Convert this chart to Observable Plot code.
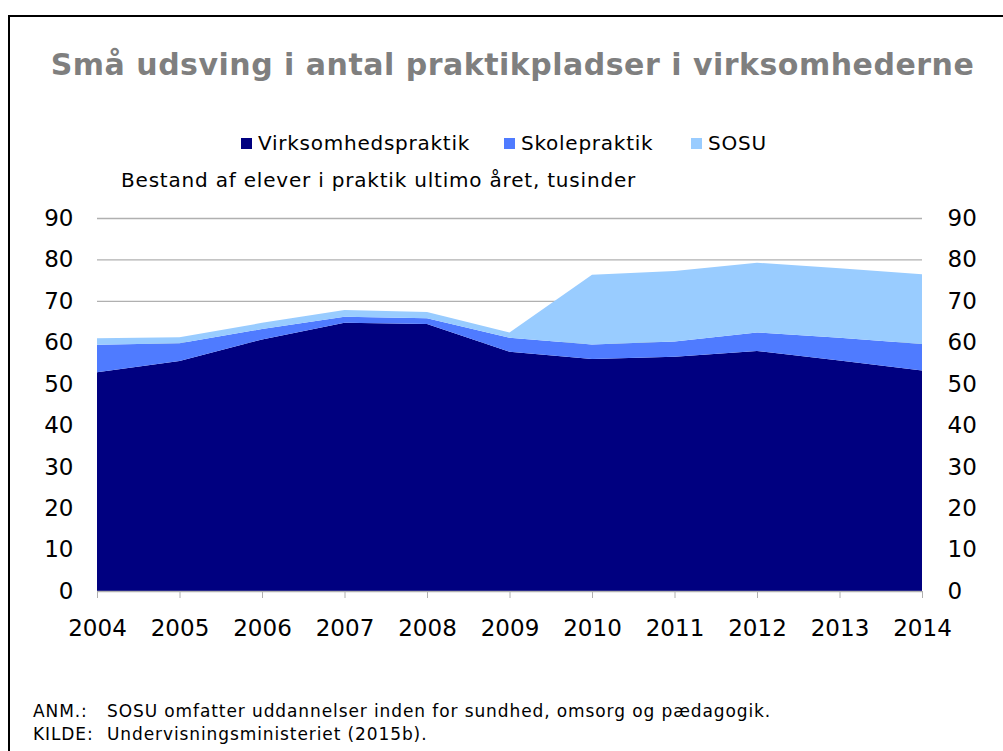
<!DOCTYPE html>
<html>
<head>
<meta charset="utf-8">
<script src="https://cdn.jsdelivr.net/npm/d3@7"></script>
<script src="https://cdn.jsdelivr.net/npm/@observablehq/plot@0.6"></script>
<style>
  html, body { margin: 0; padding: 0; background: #fff; }
  #wrap { position: relative; width: 1003px; height: 751px; overflow: hidden; font-family: "DejaVu Sans", Verdana, sans-serif; }
  #frame { position: absolute; left: 8px; top: 15px; width: 1100px; height: 800px; border-left: 2px solid #000; border-top: 2px solid #000; }
  #title { position: absolute; left: 0; width: 1025px; top: 47px; text-align: center; font-weight: bold; font-size: 30px; letter-spacing: 0.5px; color: #7f7f7f; white-space: nowrap; }
  #legend { position: absolute; left: 0; top: 131px; width: 1003px; height: 30px; font-size: 20px; letter-spacing: 0.75px; color: #000; white-space: nowrap; }
  #legend span.item { position: absolute; top: 0; }
  #legend span.sw { display: inline-block; width: 11px; height: 11px; margin-right: 6px; vertical-align: 1px; }
  #subtitle { position: absolute; left: 121px; top: 168px; font-size: 20px; letter-spacing: 0.8px; color: #000; white-space: nowrap; }
  #chart { position: absolute; left: 0; top: 200px; }
  #notes { position: absolute; left: 33px; top: 700px; font-size: 17px; letter-spacing: 0.9px; color: #000; line-height: 23px; white-space: nowrap; }
  #notes .lab { display: inline-block; width: 74px; }
</style>
</head>
<body>
<div id="wrap">
  <div id="frame"></div>
  <div id="title"></div>
  <div id="legend"></div>
  <div id="subtitle"></div>
  <div id="chart"></div>
  <div id="notes"></div>
</div>
<script>
const years = [2004, 2005, 2006, 2007, 2008, 2009, 2010, 2011, 2012, 2013, 2014];
const seriesNames = ["Virksomhedspraktik", "Skolepraktik", "SOSU"];
const seriesColors = ["#000080", "#4f7bff", "#99ccff"];
const virksomhedspraktik = [52.8, 55.5, 60.7, 64.7, 64.4, 57.7, 56.0, 56.5, 57.9, 55.6, 53.2];
const skolepraktik = [6.6, 4.3, 2.5, 1.5, 1.4, 3.4, 3.5, 3.7, 4.5, 5.5, 6.4];
const sosu = [1.6, 1.4, 1.5, 1.6, 1.5, 1.3, 16.8, 17.0, 16.8, 16.8, 16.8];
const yTicks = [0, 10, 20, 30, 40, 50, 60, 70, 80, 90];
const titleText = "Små udsving i antal praktikpladser i virksomhederne";
const subtitleText = "Bestand af elever i praktik ultimo året, tusinder";
const noteLabels = ["ANM.:", "KILDE:"];
const noteTexts = ["SOSU omfatter uddannelser inden for sundhed, omsorg og pædagogik.", "Undervisningsministeriet (2015b)."];
const legendLeft = [241, 504, 691];

const valuesBySeries = [virksomhedspraktik, skolepraktik, sosu];
const data = [];
seriesNames.forEach((s, i) => {
  years.forEach((y, j) => data.push({year: y, series: s, value: valuesBySeries[i][j]}));
});

document.getElementById("title").textContent = titleText;
document.getElementById("subtitle").textContent = subtitleText;
const leg = document.getElementById("legend");
seriesNames.forEach((s, i) => {
  const item = document.createElement("span");
  item.className = "item";
  item.style.left = legendLeft[i] + "px";
  const sw = document.createElement("span");
  sw.className = "sw";
  sw.style.background = seriesColors[i];
  item.appendChild(sw);
  item.appendChild(document.createTextNode(s));
  leg.appendChild(item);
});
const notes = document.getElementById("notes");
noteLabels.forEach((l, i) => {
  const d = document.createElement("div");
  const a = document.createElement("span");
  a.className = "lab";
  a.textContent = l;
  d.appendChild(a);
  d.appendChild(document.createTextNode(noteTexts[i]));
  notes.appendChild(d);
});

const chart = Plot.plot({
  width: 1003,
  height: 450,
  marginLeft: 97,
  marginRight: 81,
  marginTop: 18,
  marginBottom: 59,
  style: {fontFamily: "'DejaVu Sans', Verdana, sans-serif", fontSize: "23px", color: "#000", background: "transparent"},
  x: {domain: [2004, 2014]},
  y: {domain: [0, 90]},
  color: {domain: seriesNames, range: seriesColors},
  marks: [
    Plot.ruleY(yTicks.filter(d => d > 0), {stroke: "#b0b0b0", strokeWidth: 1.3, strokeOpacity: 1}),
    Plot.areaY(data, Plot.stackY({x: "year", y: "value", fill: "series", order: seriesNames})),
    Plot.ruleY([0], {stroke: "#b0b0b0", strokeWidth: 1.3}),
    Plot.axisX({ticks: years, tickFormat: d => String(d), tickSize: 7, tickPadding: 21, stroke: "#b0b0b0", fill: "#000", label: null, fontSize: 23}),
    Plot.axisY({anchor: "left", ticks: yTicks, tickSize: 0, tickPadding: 24, label: null, fill: "#000", fontSize: 23}),
    Plot.axisY({anchor: "right", ticks: yTicks, tickSize: 0, tickPadding: 25, label: null, fill: "#000", fontSize: 23})
  ]
});
document.getElementById("chart").appendChild(chart);
</script>
</body>
</html>
